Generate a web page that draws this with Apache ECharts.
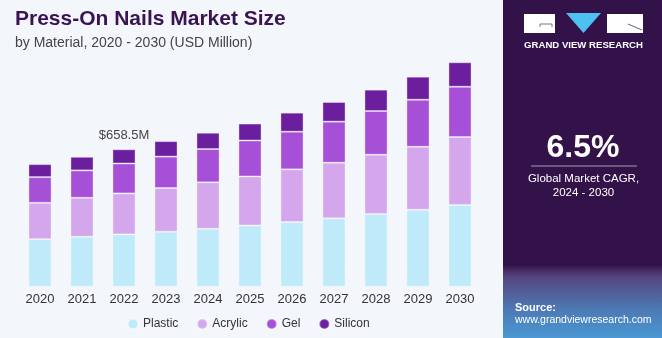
<!DOCTYPE html>
<html>
<head>
<meta charset="utf-8">
<script src="https://cdn.jsdelivr.net/npm/echarts@6/dist/echarts.min.js"></script>
<style>
html,body{margin:0;padding:0;background:#f3f7fb;}
#chart{width:662px;height:338px;}
</style>
</head>
<body>
<div id="chart"></div>
<script>
const years = ['2020','2021','2022','2023','2024','2025','2026','2027','2028','2029','2030'];
const plastic = [227,239,250,263,277,293,309,327,348,368,391];
const acrylic = [174,186,196,209,222,234,252,266,283,301,325];
const gel     = [123,131,143,150,159,172,180,196,209,225,240];
const silicon = [62,65,68,74,78,81,91,94,102,110,117];
const seriesNames = ['Plastic','Acrylic','Gel','Silicon'];
const annotation = {index: 2, text: '$658.5M'};

const colors = ['#bfeaf9','#d4a6ec','#a64fd7','#6b1f9e'];
const dataSets = [plastic, acrylic, gel, silicon];

const chart = echarts.init(document.getElementById('chart'), null, {renderer:'canvas'});
const series = seriesNames.map((n,i)=>({
  name:n, type:'bar', stack:'total', barWidth:'55%',
  data:dataSets[i],
  itemStyle:{color:colors[i], borderColor:'rgba(255,255,255,0.35)', borderWidth:1},
  label: i===3 ? {
    show:true, position:'top', distance:7, color:'#444', fontSize:13,
    fontFamily:'Liberation Sans',
    formatter:(p)=> p.dataIndex===annotation.index ? annotation.text : ''
  } : {show:false}
}));

chart.setOption({
  backgroundColor:'#f3f7fb',
  animation:false,
  grid:{left:19, right:181, top:35.7, bottom:51.3},
  xAxis:{type:'category', data:years,
    axisLine:{show:false}, axisTick:{show:false},
    axisLabel:{color:'#333', fontSize:13, fontFamily:'Liberation Sans', margin:6}},
  yAxis:{type:'value', min:0, max:1200, show:false, splitLine:{show:false}},
  legend:{left:122, top:313, itemWidth:10, itemHeight:10, itemGap:18, icon:'circle',
    textStyle:{color:'#333', fontSize:12, fontFamily:'Liberation Sans'},
    data:seriesNames},
  series: series,
  graphic:[
    {type:'text', left:15, top:9, style:{text:'Press-On Nails Market Size', fill:'#3a1352',
      font:'bold 21px "Liberation Sans"'}},
    {type:'text', left:15, top:36, style:{text:'by Material, 2020 - 2030 (USD Million)', fill:'#444',
      font:'14px "Liberation Sans"'}},
    {type:'rect', shape:{x:503, y:0, width:159, height:338}, style:{fill:'#33124a'}, z:-1},
    {type:'rect', shape:{x:503, y:266, width:159, height:72}, z:-1,
      style:{fill:new echarts.graphic.LinearGradient(0,0,0,1,[
        {offset:0,color:'#3a1850'},{offset:0.15,color:'#56457f'},{offset:0.6,color:'#4c79b4'},{offset:1,color:'#4a98d3'}])}},
    // logo
    {type:'rect', shape:{x:524, y:14, width:31, height:19}, style:{fill:'#ffffff'}},
    {type:'polyline', shape:{points:[[540,27],[540,24],[552,24],[552,27]]}, style:{stroke:'#777',lineWidth:1,fill:null}},
    {type:'polygon', shape:{points:[[566,13],[601,13],[583.5,33]]}, style:{fill:'#4fc1f0'}},
    {type:'rect', shape:{x:607, y:14, width:36, height:19}, style:{fill:'#ffffff'}},
    {type:'line', shape:{x1:628,y1:24,x2:642,y2:30}, style:{stroke:'#6a5a80',lineWidth:1}},
    {type:'text', x:583.5, y:45, style:{text:'GRAND VIEW RESEARCH', fill:'#ffffff',
      font:'bold 9.6px "Liberation Sans"', textAlign:'center', textVerticalAlign:'middle'}},
    {type:'text', x:583, y:148, style:{text:'6.5%', fill:'#ffffff', font:'bold 32px "Liberation Sans"',
      textAlign:'center', textVerticalAlign:'middle'}},
    {type:'line', shape:{x1:531,y1:166,x2:637,y2:166}, style:{stroke:'#a89cb4',lineWidth:1}},
    {type:'text', x:583.5, y:179, style:{text:'Global Market CAGR,', fill:'#ffffff', font:'11.5px "Liberation Sans"',
      textAlign:'center', textVerticalAlign:'middle'}},
    {type:'text', x:583.5, y:193, style:{text:'2024 - 2030', fill:'#ffffff', font:'11.5px "Liberation Sans"',
      textAlign:'center', textVerticalAlign:'middle'}},
    {type:'text', left:515, top:302, style:{text:'Source:', fill:'#ffffff', font:'bold 11px "Liberation Sans"'}},
    {type:'text', left:515, top:315, style:{text:'www.grandviewresearch.com', fill:'#ffffff', font:'10.5px "Liberation Sans"'}}
  ]
});
</script>
</body>
</html>
